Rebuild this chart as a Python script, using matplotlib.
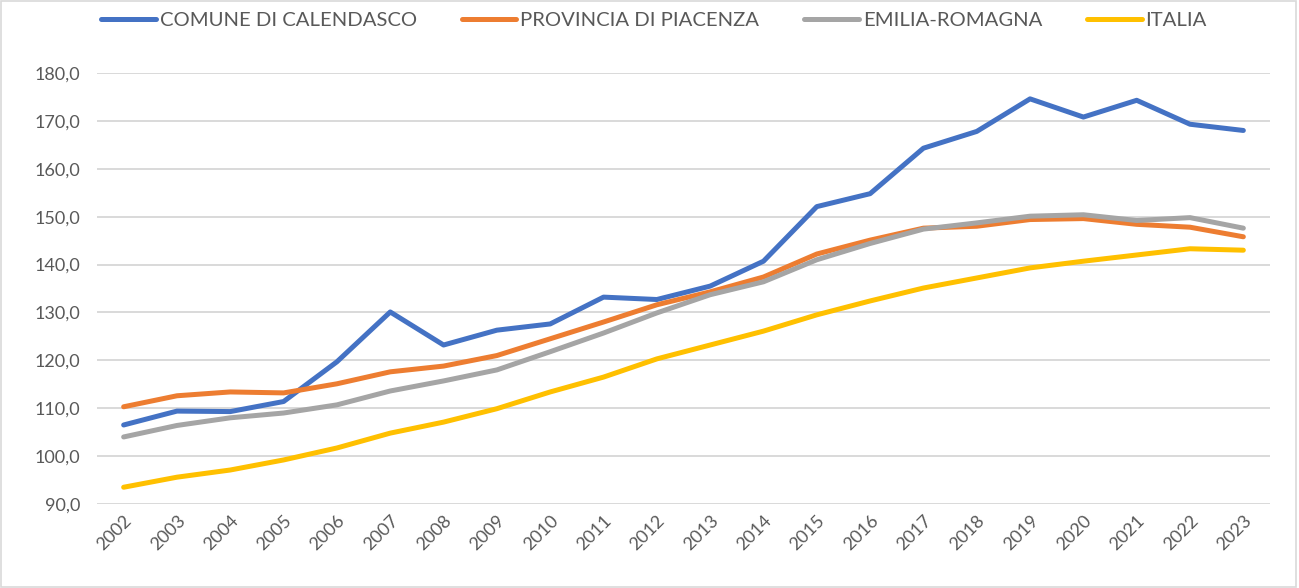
import matplotlib
matplotlib.use("Agg")
import matplotlib.pyplot as plt
from matplotlib.patches import Rectangle

years = [str(y) for y in range(2002, 2024)]
calendasco = [106.5, 109.4, 109.3, 111.4, 119.7, 130.1, 123.2, 126.3, 127.6, 133.2, 132.7,
              135.5, 140.7, 152.1, 154.8, 164.3, 167.8, 174.6, 170.8, 174.3, 169.3, 168.0]
piacenza = [110.3, 112.6, 113.4, 113.2, 115.1, 117.6, 118.8, 121.0, 124.5, 128.0, 131.6,
            134.3, 137.4, 142.2, 145.1, 147.6, 148.0, 149.4, 149.6, 148.4, 147.8, 145.8]
emilia = [104.0, 106.4, 108.0, 109.0, 110.7, 113.6, 115.7, 118.0, 121.8, 125.7, 129.9,
          133.7, 136.4, 141.0, 144.4, 147.4, 148.7, 150.1, 150.4, 149.2, 149.8, 147.6]
italia = [93.5, 95.6, 97.1, 99.2, 101.7, 104.8, 107.1, 109.9, 113.4, 116.5, 120.3,
          123.2, 126.1, 129.5, 132.4, 135.1, 137.2, 139.3, 140.7, 142.0, 143.3, 143.0]
labels = ["COMUNE DI CALENDASCO", "PROVINCIA DI PIACENZA", "EMILIA-ROMAGNA", "ITALIA"]
colors = ["#4472C4", "#ED7D31", "#A5A5A5", "#FFC000"]
yticks = [90, 100, 110, 120, 130, 140, 150, 160, 170, 180]

plt.rcParams['font.family'] = ['Lato', 'DejaVu Sans']
fig = plt.figure(figsize=(12.99, 5.88), dpi=100)
ax = fig.add_axes([97/1299, 1 - 504/588, (1270 - 97)/1299, (504 - 73)/588])

x = list(range(len(years)))
for series, lab, col in zip([calendasco, piacenza, emilia, italia], labels, colors):
    ax.plot(x, series, color=col, lw=3.6, label=lab, solid_capstyle='round', zorder=3)

ax.set_xlim(-0.5, len(years) - 0.5)
ax.set_ylim(90, 180)
ax.set_yticks(yticks)
ax.set_yticklabels([f"{v:.1f}".replace('.', ',') for v in yticks])
ax.set_xticks(x)
ax.set_xticklabels(years, rotation=45, ha='right', va='top', rotation_mode='anchor')
ax.tick_params(axis='both', length=0, labelsize=13, colors='#595959')
ax.tick_params(axis='y', pad=12)
ax.tick_params(axis='x', pad=6)
ax.grid(axis='y', color='#D9D9D9', lw=1.4, zorder=0)
ax.set_axisbelow(True)
for s in ax.spines.values():
    s.set_visible(False)
for line in ax.lines:
    line.set_clip_on(False)

leg = fig.legend(loc='center', bbox_to_anchor=(654/1299, 1 - 20/588), ncol=4, frameon=False,
                 fontsize=14.6, handlelength=2.7, columnspacing=2.2, handletextpad=0.2,
                 labelcolor='#595959')

fig.patches.append(Rectangle((0.001, 0.001), 0.997, 0.997, transform=fig.transFigure,
                             fill=False, edgecolor='#D9D9D9', lw=1.2))
fig.savefig("out.png", dpi=100)
